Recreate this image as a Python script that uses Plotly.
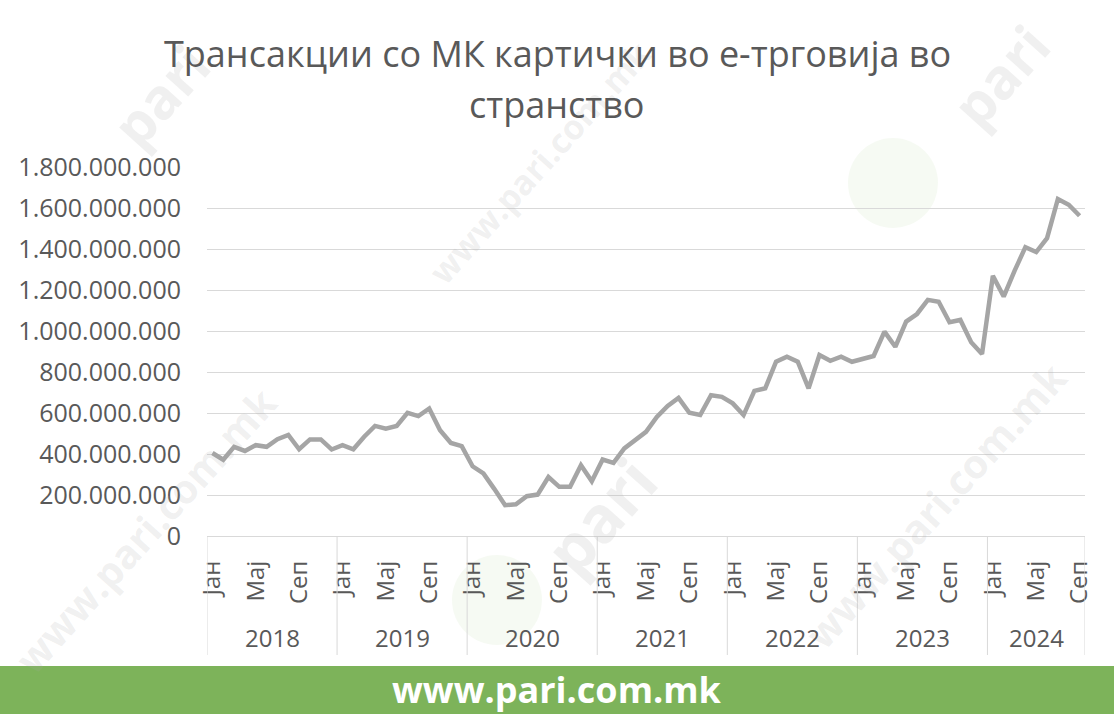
import plotly.graph_objects as go

years = ["2018", "2019", "2020", "2021", "2022", "2023", "2024"]
months_per_year = [12, 12, 12, 12, 12, 12, 9]
month_labels = ["Јан", "Мај", "Сеп"]
month_label_idx = [0, 4, 8]

values = [
    # 2018
    405e6, 372e6, 435e6, 415e6, 443e6, 435e6, 472e6, 493e6, 423e6, 471e6, 471e6, 422e6,
    # 2019
    443e6, 423e6, 484e6, 537e6, 523e6, 537e6, 601e6, 585e6, 622e6, 516e6, 454e6, 438e6,
    # 2020
    340e6, 305e6, 230e6, 150e6, 155e6, 194e6, 202e6, 288e6, 240e6, 240e6, 345e6, 267e6,
    # 2021
    373e6, 357e6, 427e6, 467e6, 508e6, 581e6, 635e6, 674e6, 601e6, 590e6, 687e6, 679e6,
    # 2022
    647e6, 590e6, 708e6, 720e6, 850e6, 875e6, 850e6, 720e6, 883e6, 855e6, 875e6, 850e6,
    # 2023
    862e6, 878e6, 997e6, 923e6, 1046e6, 1083e6, 1152e6, 1143e6, 1043e6, 1054e6, 945e6, 888e6,
    # 2024
    1269e6, 1168e6, 1293e6, 1409e6, 1385e6, 1453e6, 1644e6, 1616e6, 1562e6,
]

title_lines = ["Трансакции со МК картички во е-трговија во", "странство"]
footer_text = "www.pari.com.mk"

FONT = "Open Sans"
TXT = "#595959"

x = list(range(len(values)))
tickvals, ticktext = [], []
starts = []
s = 0
for n in months_per_year:
    starts.append(s)
    for idx, lab in zip(month_label_idx, month_labels):
        if idx < n:
            tickvals.append(s + idx)
            ticktext.append(lab)
    s += n
total = s

fig = go.Figure()
fig.add_trace(go.Scatter(x=x, y=values, mode="lines",
                         line=dict(color="#a5a5a5", width=4.5), hoverinfo="skip"))

L, R, T, B = 207, 29, 167, 178
W, H = 1114, 714
pw, ph = W - L - R, H - T - B

def px_to_paper_x(px):
    return (px - L) / pw

def px_to_paper_y(py):
    return (H - B - py) / ph

shapes = []
annotations = []

# watermark circles (faint)
for cx, cy, r in [(893, 183, 45), (497, 600, 45)]:
    shapes.append(dict(type="circle", xref="paper", yref="paper", layer="below",
                       x0=px_to_paper_x(cx - r), x1=px_to_paper_x(cx + r),
                       y0=px_to_paper_y(cy + r), y1=px_to_paper_y(cy - r),
                       fillcolor="rgba(126,179,90,0.07)", line=dict(width=0)))

# watermark texts
for cx, cy, txt, sz in [(145, 530, "www.pari.com.mk", 40), (540, 162, "www.pari.com.mk", 34),
                        (935, 505, "www.pari.com.mk", 40), (160, 95, "pari", 56),
                        (600, 515, "pari", 64), (1000, 75, "pari", 56)]:
    annotations.append(dict(xref="paper", yref="paper", x=px_to_paper_x(cx), y=px_to_paper_y(cy),
                            text=txt, showarrow=False, textangle=-48,
                            font=dict(family=FONT, size=sz, color="rgba(170,170,170,0.18)", weight="bold"),
                            xanchor="center", yanchor="middle"))

# year separators
for b in starts + [total]:
    shapes.append(dict(type="line", xref="x", yref="paper", x0=b - 0.5, x1=b - 0.5,
                       y0=0, y1=px_to_paper_y(655), line=dict(color="#d9d9d9", width=1)))

# year labels
for yr, st, n in zip(years, starts, months_per_year):
    annotations.append(dict(xref="x", yref="paper", x=st + (n - 1) / 2, y=px_to_paper_y(637),
                            text=yr, showarrow=False, xanchor="center", yanchor="middle",
                            font=dict(family=FONT, size=24, color=TXT)))

# footer band
shapes.append(dict(type="rect", xref="paper", yref="paper", layer="above",
                   x0=px_to_paper_x(-5), x1=px_to_paper_x(W + 5),
                   y0=px_to_paper_y(H + 5), y1=px_to_paper_y(666),
                   fillcolor="#7db35a", line=dict(width=0)))
annotations.append(dict(xref="paper", yref="paper", x=px_to_paper_x(557), y=px_to_paper_y(689),
                        text=footer_text, showarrow=False, xanchor="center", yanchor="middle",
                        font=dict(family=FONT, size=36, color="white", weight="bold")))

# title lines
for txt, cy in zip(title_lines, [53, 104]):
    annotations.append(dict(xref="paper", yref="paper", x=px_to_paper_x(557), y=px_to_paper_y(cy),
                            text=txt, showarrow=False, xanchor="center", yanchor="middle",
                            font=dict(family=FONT, size=36, color=TXT)))

fig.update_layout(
    width=W, height=H,
    margin=dict(l=L, r=R, t=T, b=B, pad=0),
    paper_bgcolor="white", plot_bgcolor="white",
    separators=",.",
    showlegend=False,
    shapes=shapes,
    annotations=annotations,
    font=dict(family=FONT, color=TXT),
)
fig.update_xaxes(range=[-0.5, total - 0.5], tickmode="array", tickvals=tickvals, ticktext=ticktext,
                 tickangle=-90, ticks="outside", ticklen=14, tickcolor="rgba(0,0,0,0)",
                 tickfont=dict(family=FONT, size=24, color=TXT),
                 showgrid=False, showline=True, linecolor="#d9d9d9", linewidth=1, zeroline=False)
fig.update_yaxes(range=[0, 1.8e9], dtick=2e8, tick0=0, tickformat=",d",
                 ticks="outside", ticklen=20, tickcolor="rgba(0,0,0,0)",
                 tickfont=dict(family=FONT, size=25, color=TXT),
                 showgrid=True, gridcolor="#d9d9d9", gridwidth=1, zeroline=False, showline=False)

fig.write_html("out.html", config={"displayModeBar": False},
               post_script="document.body.style.margin='0';document.body.style.overflow='hidden';")
